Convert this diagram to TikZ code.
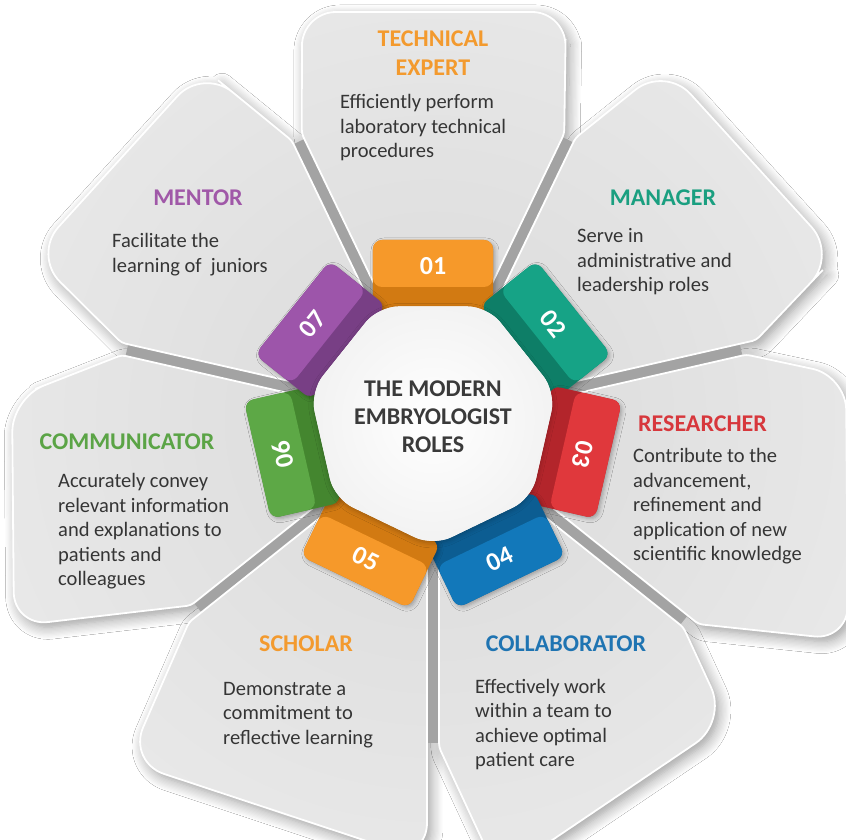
\documentclass[tikz,border=0pt]{standalone}
\usepackage{fontspec}
\setmainfont{Carlito}
\usetikzlibrary{calc,shadows.blur}

% tab colours (front face / darker side)
\definecolor{oraL}{HTML}{F6992A}
\definecolor{oraD}{HTML}{D27A12}
\definecolor{teaL}{HTML}{16A386}
\definecolor{teaD}{HTML}{0E7E67}
\definecolor{redL}{HTML}{E0383C}
\definecolor{redD}{HTML}{B3252B}
\definecolor{bluL}{HTML}{1278BA}
\definecolor{bluD}{HTML}{0C5D92}
\definecolor{grnL}{HTML}{5DA846}
\definecolor{grnD}{HTML}{44862F}
\definecolor{purL}{HTML}{9D55AA}
\definecolor{purD}{HTML}{783F85}
% heading colours
\definecolor{ttOra}{HTML}{F39A2E}
\definecolor{ttTea}{HTML}{1A9F80}
\definecolor{ttRed}{HTML}{D7373C}
\definecolor{ttBlu}{HTML}{1F74B2}
\definecolor{ttGrn}{HTML}{5BA446}
\definecolor{ttPur}{HTML}{A058A8}
% neutrals
\definecolor{bodytxt}{HTML}{353535}
\definecolor{ctrtxt}{HTML}{3A3A3A}
\definecolor{gapgrey}{HTML}{A3A3A3}
\definecolor{petalIn}{HTML}{DADADA}
\definecolor{petalOut}{HTML}{F6F6F6}
\definecolor{hepEdge}{HTML}{E4E4E4}

\tikzset{
  petalbase/.style={fill=petalIn, blur shadow={shadow xshift=4pt, shadow yshift=-5pt,
      shadow blur radius=12pt, shadow opacity=40, shadow blur steps=10}},
  petaledge/.style={draw=white, line width=1.8pt},
  gapband/.style={draw=gapgrey, line width=15pt},
  tabshape/.style={rounded corners=9pt},
  tabnum/.style={font=\fontsize{26}{26}\selectfont\bfseries, text=white, inner sep=0pt},
  roletitle/.style={font=\fontsize{24}{29}\selectfont\bfseries, inner sep=0pt, anchor=base},
  rolebody/.style={font=\fontsize{20.5}{24.5}\selectfont, text=bodytxt, inner sep=0pt, anchor=base west},
  hubtitle/.style={font=\fontsize{24}{28}\selectfont\bfseries, text=ctrtxt, inner sep=0pt, anchor=base},
}

\begin{document}
\begin{tikzpicture}[x=1pt,y=1pt]
\useasboundingbox (-433,-420) rectangle (413,420);
\fill[white] (-433,-420) rectangle (413,420);

\def\gp{6}
% petal outlines: inner point, notch, outer corners, notch, inner point
\coordinate (P1a) at ($(115.71:90)+(25.71:\gp)$);
\coordinate (P1b) at ($(115.71:315)+(25.71:\gp)$);
\coordinate (P1c) at (-131,408);
\coordinate (P1d) at (133,408);
\coordinate (P1e) at ($(64.29:315)+(154.29:\gp)$);
\coordinate (P1f) at ($(64.29:90)+(154.29:\gp)$);

\coordinate (P2a) at ($(64.29:90)+(-25.71:\gp)$);
\coordinate (P2b) at ($(64.29:316)+(-25.71:\gp)$);
\coordinate (P2c) at (232,354);
\coordinate (P2d) at (404,165);
\coordinate (P2e) at ($(12.86:333)+(102.86:\gp)$);
\coordinate (P2f) at ($(12.86:90)+(102.86:\gp)$);

\coordinate (P3a) at ($(12.86:90)+(-77.14:\gp)$);
\coordinate (P3b) at ($(12.86:320)+(-77.14:\gp)$);
\coordinate (P3c) at (413,44);
\coordinate (P3d) at (415,-220);
\coordinate (P3e) at ($(-38.57:335)+(51.43:\gp)$);
\coordinate (P3f) at ($(-38.57:90)+(51.43:\gp)$);

\coordinate (P4a) at ($(-38.57:90)+(-128.57:\gp)$);
\coordinate (P4b) at ($(-38.57:325)+(-128.57:\gp)$);
\coordinate (P4c) at (294,-302);
\coordinate (P4d) at (66,-456);
\coordinate (P4e) at ($(-90:327)+(0:\gp)$);
\coordinate (P4f) at ($(-90:90)+(0:\gp)$);

\coordinate (P5a) at ($(-90:90)+(180:\gp)$);
\coordinate (P5b) at ($(-90:300)+(180:\gp)$);
\coordinate (P5c) at ($(-90:441)+(180:\gp)$);
\coordinate (P5d) at (-305,-342);
\coordinate (P5e) at ($(-141.43:317)+(-51.43:\gp)$);
\coordinate (P5f) at ($(-141.43:90)+(-51.43:\gp)$);

\coordinate (P6a) at ($(-141.43:90)+(128.57:\gp)$);
\coordinate (P6b) at ($(-141.43:305)+(128.57:\gp)$);
\coordinate (P6c) at (-419,-206);
\coordinate (P6d) at (-421,22);
\coordinate (P6e) at ($(167.14:318)+(257.14:\gp)$);
\coordinate (P6f) at ($(167.14:90)+(257.14:\gp)$);

\coordinate (P7a) at ($(167.14:90)+(77.14:\gp)$);
\coordinate (P7b) at ($(167.14:321)+(77.14:\gp)$);
\coordinate (P7c) at (-400,165);
\coordinate (P7d) at (-230,352);
\coordinate (P7e) at ($(115.71:313)+(205.71:\gp)$);
\coordinate (P7f) at ($(115.71:90)+(205.71:\gp)$);

\def\petalI{(P1a) [rounded corners=4pt] -- (P1b) -- ($(P1b)!.5!(P1c)$) [rounded corners=34pt] -- (P1c) -- (P1d) -- ($(P1d)!.5!(P1e)$) [rounded corners=4pt] -- (P1e) -- (P1f) -- cycle}
\def\petalII{(P2a) [rounded corners=4pt] -- (P2b) -- ($(P2b)!.5!(P2c)$) [rounded corners=38pt] -- (P2c) -- (P2d) -- ($(P2d)!.5!(P2e)$) [rounded corners=4pt] -- (P2e) -- (P2f) -- cycle}
\def\petalIII{(P3a) [rounded corners=4pt] -- (P3b) -- ($(P3b)!.5!(P3c)$) [rounded corners=34pt] -- (P3c) -- (P3d) -- ($(P3d)!.5!(P3e)$) [rounded corners=4pt] -- (P3e) -- (P3f) -- cycle}
\def\petalIV{(P4a) [rounded corners=4pt] -- (P4b) -- ($(P4b)!.5!(P4c)$) [rounded corners=38pt] -- (P4c) -- (P4d) -- ($(P4d)!.5!(P4e)$) [rounded corners=4pt] -- (P4e) -- (P4f) -- cycle}
\def\petalV{(P5a) [rounded corners=4pt] -- (P5b) -- ($(P5b)!.5!(P5c)$) [rounded corners=38pt] -- (P5c) -- (P5d) -- ($(P5d)!.5!(P5e)$) [rounded corners=4pt] -- (P5e) -- (P5f) -- cycle}
\def\petalVI{(P6a) [rounded corners=4pt] -- (P6b) -- ($(P6b)!.5!(P6c)$) [rounded corners=34pt] -- (P6c) -- (P6d) -- ($(P6d)!.5!(P6e)$) [rounded corners=4pt] -- (P6e) -- (P6f) -- cycle}
\def\petalVII{(P7a) [rounded corners=4pt] -- (P7b) -- ($(P7b)!.5!(P7c)$) [rounded corners=38pt] -- (P7c) -- (P7d) -- ($(P7d)!.5!(P7e)$) [rounded corners=4pt] -- (P7e) -- (P7f) -- cycle}

% soft shadows under the petals
\foreach \pp in {\petalI,\petalII,\petalIII,\petalIV,\petalV,\petalVI,\petalVII}
  \path[petalbase] \pp;

% grey grooves between neighbouring petals
\foreach \a/\r in {64.29/311, 12.86/316, -38.57/321, -90/323, -141.43/301, 167.14/314, 115.71/309}
  \draw[gapband] (0,0) -- (\a:\r);

% petal faces
\foreach \pp in {\petalI,\petalII,\petalIII,\petalIV,\petalV,\petalVI,\petalVII}{
  \begin{scope}
    \clip \pp;
    \shade[inner color=petalIn, outer color=petalOut] (0,0) circle (900);
  \end{scope}
  \draw[petaledge] \pp;
}

% numbered tabs round the hub
\foreach \k/\lt/\dk/\num/\rot in {0/oraL/oraD/01/0, 1/teaL/teaD/02/-51.43,
    2/redL/redD/03/-102.86, 3/bluL/bluD/04/25.71, 4/oraL/oraD/05/-25.71,
    5/grnL/grnD/06/102.86, 6/purL/purD/07/51.43}{
  \begin{scope}[rotate=-51.43*\k]
    \fill[\dk, tabshape, blur shadow={shadow xshift=2pt, shadow yshift=-2pt,
        shadow blur radius=4pt, shadow opacity=30}] (-60,108) rectangle (60,180);
    \fill[\lt, tabshape] (-60,133) rectangle (60,180);
    \node[tabnum, rotate=\rot] (tab\num) at (0,154) {\num};
  \end{scope}
}

% central heptagon
\def\hept{(64.29:126) -- (115.71:126) -- (167.14:126) -- (218.57:126) -- (270:126) -- (321.43:126) -- (12.86:126) -- cycle}
\fill[white, rounded corners=20pt, blur shadow={shadow xshift=0pt, shadow yshift=-2pt,
    shadow blur radius=5pt, shadow opacity=25}] \hept;
\begin{scope}
  \clip[rounded corners=20pt] \hept;
  \shade[inner color=white, outer color=hepEdge] (0,0) circle (260);
\end{scope}
\node[hubtitle] (hub) at (0,23) {\parbox[t]{170pt}{\centering THE MODERN\\EMBRYOLOGIST\\ROLES}};

% role headings and descriptions
\node[roletitle, text=ttOra] (title1) at (0,373) {\parbox[t]{130pt}{\centering TECHNICAL\\EXPERT}};
\node[rolebody] (body1) at (-93,311) {\parbox[t]{175pt}{\raggedright Efficiently perform\\laboratory technical\\procedures}};

\node[roletitle, text=ttTea] (title2) at (230,214) {MANAGER};
\node[rolebody] (body2) at (144,177) {\parbox[t]{165pt}{\raggedright Serve in\\administrative and\\leadership roles}};

\node[roletitle, text=ttRed, anchor=base west] (title3) at (205,-12) {RESEARCHER};
\node[rolebody] (body3) at (200,-43) {\parbox[t]{175pt}{\raggedright Contribute to the\\advancement,\\refinement and\\application of new\\scientific knowledge}};

\node[roletitle, text=ttBlu] (title4) at (133,-231) {COLLABORATOR};
\node[rolebody] (body4) at (42,-273) {\parbox[t]{150pt}{\raggedright Effectively work\\within a team to\\achieve optimal\\patient care}};

\node[roletitle, text=ttOra] (title5) at (-127,-231) {SCHOLAR};
\node[rolebody] (body5) at (-210,-275) {\parbox[t]{160pt}{\raggedright Demonstrate a\\commitment to\\reflective learning}};

\node[roletitle, text=ttGrn] (title6) at (-306,-30) {COMMUNICATOR};
\node[rolebody] (body6) at (-375,-68) {\parbox[t]{180pt}{\raggedright Accurately convey\\relevant information\\and explanations to\\patients and\\colleagues}};

\node[roletitle, text=ttPur] (title7) at (-235,214) {MENTOR};
\node[rolebody] (body7) at (-321,172) {\parbox[t]{165pt}{\raggedright Facilitate the\\learning of~ juniors}};
\end{tikzpicture}
\end{document}
